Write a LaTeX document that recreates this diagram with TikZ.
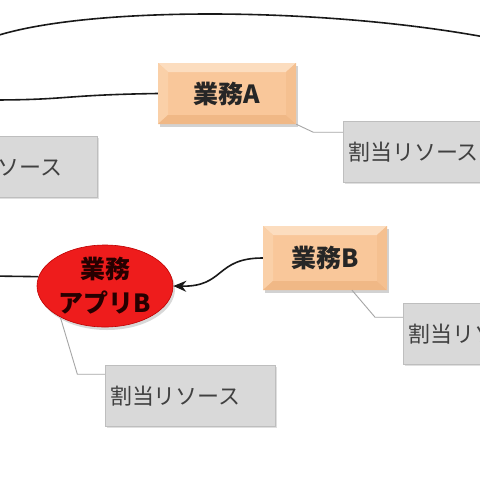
\documentclass[tikz,border=0pt]{standalone}
\usepackage{fontspec}
\newfontfamily\jpfont{Noto Sans CJK JP}
\usepackage{tikz}
\usetikzlibrary{shapes,arrows.meta,positioning,shadows}

\definecolor{peach}{HTML}{F9C79A}
\definecolor{peachlight}{HTML}{FCDDBF}
\definecolor{peachside}{HTML}{FAD0A8}
\definecolor{peachdark}{HTML}{F0B886}
\definecolor{resgray}{HTML}{D9D9D9}
\definecolor{resline}{HTML}{BEBEBE}
\definecolor{restext}{HTML}{404040}
\definecolor{appred}{HTML}{EE1C1C}

\begin{document}
\begin{tikzpicture}[
    x=1pt, y=-1pt,
    task/.style={rectangle, fill=peach, minimum width=138pt, minimum height=61pt,
        font=\jpfont\bfseries\fontsize{25}{30}\selectfont, text=black!85,
        drop shadow={shadow xshift=2pt, shadow yshift=-3pt, opacity=0.35},
        path picture={
            \fill[peachlight] (path picture bounding box.north west) -- (path picture bounding box.north east)
                -- ([shift={(-10pt,-9pt)}]path picture bounding box.north east) -- ([shift={(10pt,-9pt)}]path picture bounding box.north west) -- cycle;
            \fill[peachside] (path picture bounding box.north west) -- ([shift={(10pt,-9pt)}]path picture bounding box.north west)
                -- ([shift={(10pt,9pt)}]path picture bounding box.south west) -- (path picture bounding box.south west) -- cycle;
            \fill[peachdark] (path picture bounding box.south west) -- (path picture bounding box.south east)
                -- ([shift={(-10pt,9pt)}]path picture bounding box.south east) -- ([shift={(10pt,9pt)}]path picture bounding box.south west) -- cycle;
            \fill[peachdark!50!peach] (path picture bounding box.north east) -- ([shift={(-10pt,-9pt)}]path picture bounding box.north east)
                -- ([shift={(-10pt,9pt)}]path picture bounding box.south east) -- (path picture bounding box.south east) -- cycle;
        }},
    app/.style={ellipse, draw=red!75!black, line width=0.6pt, fill=appred,
        minimum width=136pt, minimum height=82pt, inner sep=0pt, align=center,
        font=\jpfont\bfseries\fontsize{25}{34}\selectfont, text=black!85!red,
        drop shadow={shadow xshift=2pt, shadow yshift=-3pt, opacity=0.3}},
    res/.style={rectangle, draw=resline, fill=resgray, minimum width=170pt, minimum height=61pt,
        text width=160pt, align=left, inner sep=5pt, font=\jpfont\fontsize{22}{26}\selectfont, text=restext,
        drop shadow={shadow xshift=1.5pt, shadow yshift=-1.5pt, opacity=0.25}},
    link/.style={line width=1.6pt, black!90},
    arrow/.style={link, -{Stealth[length=13pt,width=11pt]}},
    leader/.style={draw=gray!70, line width=0.9pt}
]
\fill[white] (0,0) rectangle (480,480);
\useasboundingbox (0,0) rectangle (480,480);
\clip (0,0) rectangle (480,480);

% Tasks
\node[task] (taskA) at (227,93.5) {業務A};
\node[task, minimum width=124pt, minimum height=64pt] (taskB) at (325,258) {業務B};

% Application
\node[app] (appB) at (105,286) {業務\\アプリB};

% Resources
\node[res] (resA) at (428,152) {割当リソース};
\node[res] (resL) at (12,167) {割当リソース};
\node[res] (resE) at (190,396) {割当リソース};
\node[res] (resB) at (488,334) {割当リソース};

% Free ends off the page
\coordinate (topL) at (-10,38);
\coordinate (topR) at (490,38);
\coordinate (inA) at (-10,100);
\coordinate (inApp) at (-10,276);

% Links
\draw[link] (topL) .. controls (80,6) and (320,6) .. (topR);
\draw[link] (inA) .. controls (70,100) and (60,95) .. (taskA.west);
\draw[link] (inApp) -- (appB.172);
\draw[arrow] (taskB.west) .. controls (215,258) and (225,287) .. (appB.east);

% Resource leaders
\draw[leader] (taskA.south east) -- ++(17,8) coordinate (kA) -- (kA -| resA.west);
\draw[leader] ([xshift=27pt]taskB.south) -- ++(23,27) coordinate (kB) -- (kB -| resB.west);
\draw[leader] (appB.215) -- ++(17,57) coordinate (kE) -- (kE -| resE.west);

\end{tikzpicture}
\end{document}
